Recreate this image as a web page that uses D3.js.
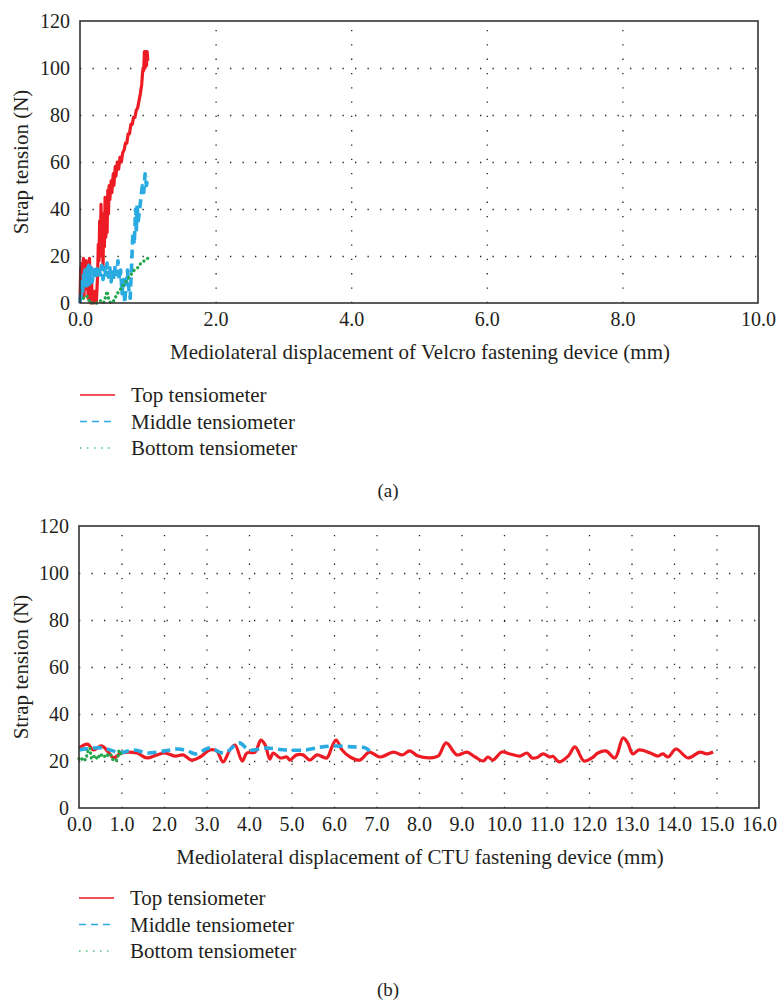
<!DOCTYPE html>
<html>
<head>
<meta charset="utf-8">
<script src="https://cdn.jsdelivr.net/npm/d3@7"></script>
<style>
  html, body { margin: 0; padding: 0; background: #fff; }
  svg text { font-family: "Liberation Serif", "Times New Roman", Times, "DejaVu Serif", serif !important; }
</style>
</head>
<body>
<svg id="fig" width="777" height="1006"></svg>
<script>
// ── Data ────────────────────────────────────────────────────────────────────
// (a) Velcro fastening device: [displacement mm, tension N]
const velcroTop = [
  [0.00, 0], [0.01, 15], [0.02, 5], [0.03, 17], [0.04, 8], [0.05, 19], [0.06, 3],
  [0.07, 14], [0.08, 10], [0.09, 18], [0.10, 6], [0.11, 16], [0.12, 2], [0.13, 12],
  [0.14, 19], [0.15, 8], [0.16, 0], [0.17, 10], [0.18, 3], [0.20, 0], [0.22, 5],
  [0.24, 0], [0.26, 12], [0.27, 25], [0.28, 18], [0.29, 35], [0.30, 22], [0.31, 42],
  [0.32, 20], [0.33, 30], [0.34, 15], [0.35, 38], [0.36, 24], [0.37, 45], [0.38, 28],
  [0.39, 40], [0.40, 30], [0.41, 48], [0.42, 38], [0.43, 50], [0.44, 44], [0.46, 52],
  [0.47, 47], [0.49, 55], [0.50, 50], [0.52, 58], [0.53, 54], [0.55, 60], [0.57, 57],
  [0.59, 62], [0.61, 60], [0.63, 64], [0.65, 65], [0.67, 68], [0.69, 68], [0.71, 72],
  [0.73, 72], [0.75, 76], [0.77, 76], [0.79, 79], [0.81, 79], [0.83, 82], [0.85, 83],
  [0.87, 86], [0.89, 89], [0.91, 93], [0.92, 97], [0.93, 100], [0.94, 99], [0.95, 107],
  [0.96, 100], [0.97, 107], [0.98, 101], [0.99, 107], [1.00, 103]
];
const velcroMiddle = [
  [0.00, 0], [0.01, 5], [0.02, 2], [0.03, 10], [0.04, 4], [0.05, 12], [0.06, 7],
  [0.07, 14], [0.08, 9], [0.09, 13], [0.10, 6], [0.11, 15], [0.12, 10], [0.13, 16],
  [0.14, 8], [0.15, 13], [0.16, 11], [0.17, 15], [0.18, 9], [0.20, 14], [0.22, 10],
  [0.24, 16], [0.26, 11], [0.28, 14], [0.30, 12], [0.32, 16], [0.34, 10], [0.36, 15],
  [0.38, 12], [0.40, 17], [0.42, 11], [0.44, 15], [0.46, 9], [0.48, 14], [0.50, 10],
  [0.52, 16], [0.54, 12], [0.56, 18], [0.58, 10], [0.60, 14], [0.62, 4], [0.64, 10],
  [0.66, 0], [0.68, 8], [0.70, 14], [0.72, 6], [0.74, 2], [0.76, 15], [0.78, 30],
  [0.80, 25], [0.82, 40], [0.83, 30], [0.84, 42], [0.86, 35], [0.88, 40], [0.90, 45],
  [0.92, 50], [0.94, 47], [0.96, 55], [0.98, 50], [1.00, 54]
];
const velcroBottom = [
  [0.05, 2], [0.10, 3], [0.15, 0], [0.25, 0], [0.30, 1], [0.35, 0], [0.38, 3], [0.40, 5],
  [0.42, 2], [0.45, 0], [0.50, 1], [0.55, 4], [0.60, 6], [0.65, 8], [0.70, 10], [0.75, 12],
  [0.80, 14], [0.85, 15], [0.90, 17], [0.95, 18], [1.00, 19]
];

// (b) CTU fastening device
const ctuTop = [
  [0.00, 25.5], [0.20, 27.2], [0.34, 24.7], [0.53, 26.4], [0.69, 23.8], [0.81, 21.3],
  [1.00, 23.4], [1.36, 23.4], [1.60, 21.3], [1.83, 22.6], [2.02, 23.4], [2.26, 22.1],
  [2.45, 22.6], [2.65, 20.4], [2.85, 21.7], [3.08, 24.7], [3.24, 24.3], [3.39, 19.6],
  [3.55, 24.7], [3.67, 26.8], [3.84, 20.0], [3.95, 23.4], [4.14, 23.8], [4.28, 28.9],
  [4.38, 26.8], [4.49, 20.8], [4.57, 23.4], [4.73, 21.3], [4.89, 21.7], [4.96, 20.4],
  [5.12, 22.6], [5.27, 22.6], [5.43, 20.4], [5.60, 22.6], [5.83, 21.3], [5.95, 26.0],
  [6.05, 28.9], [6.19, 24.7], [6.38, 21.7], [6.61, 20.4], [6.83, 23.8], [7.08, 21.7],
  [7.40, 23.8], [7.61, 22.6], [7.78, 24.3], [7.98, 22.1], [8.26, 21.3], [8.45, 22.1],
  [8.64, 27.7], [8.89, 22.6], [9.13, 23.8], [9.32, 21.7], [9.51, 20.0], [9.62, 21.7],
  [9.74, 20.4], [9.95, 23.8], [10.14, 23.0], [10.38, 22.1], [10.54, 23.4], [10.66, 21.3],
  [10.78, 21.5], [10.92, 23.0], [11.08, 21.7], [11.15, 22.0], [11.30, 19.6], [11.51, 22.1],
  [11.67, 26.0], [11.88, 20.0], [12.07, 21.3], [12.21, 23.4], [12.40, 24.3], [12.61, 21.3],
  [12.80, 29.8], [12.91, 27.7], [13.03, 23.0], [13.18, 24.7], [13.44, 23.4], [13.62, 22.1],
  [13.74, 23.0], [13.86, 21.7], [14.05, 25.1], [14.33, 21.3], [14.61, 23.8], [14.77, 23.0],
  [14.92, 23.8]
];
const ctuMiddle = [
  [0.00, 24.7], [0.33, 25.5], [0.57, 25.5], [0.80, 24.3], [0.95, 23.4], [1.30, 24.7],
  [1.60, 23.4], [2.02, 24.3], [2.33, 25.1], [2.55, 24.3], [2.76, 23.0], [3.06, 25.5],
  [3.42, 23.4], [3.77, 27.7], [4.00, 24.7], [4.39, 25.5], [4.87, 24.7], [5.33, 24.7],
  [5.72, 26.0], [6.04, 26.4], [6.43, 26.0], [6.75, 25.5], [6.86, 23.8]
];
const ctuBottom = [
  [0.00, 21.0], [0.05, 20.2], [0.10, 21.5], [0.15, 20.5], [0.20, 23.5], [0.25, 25.5],
  [0.30, 21.0], [0.35, 22.0], [0.40, 20.8], [0.45, 22.5], [0.50, 21.5], [0.55, 23.0],
  [0.60, 22.0], [0.65, 23.0], [0.70, 21.8], [0.75, 22.5], [0.80, 20.5], [0.85, 20.0],
  [0.90, 21.0], [0.95, 24.5], [1.00, 22.0]
];

const yTicks = [0, 20, 40, 60, 80, 100, 120];
const velcroXTicks = [0, 2, 4, 6, 8, 10];
const ctuXTicks = d3.range(0, 17, 1);
const legendNames = ['Top tensiometer', 'Middle tensiometer', 'Bottom tensiometer'];

// ── Styles ──────────────────────────────────────────────────────────────────
const RED = '#ed1c24', BLUE = '#29abe2', GREEN = '#22a84a', LEGEND_GREEN = '#4cc477';
const INK = '#231f20';
const seriesStyle = [
  { color: RED,   width: 3.2, dash: null,     cap: 'butt'  },
  { color: BLUE,  width: 3.6, dash: '9,5',    cap: 'butt'  },
  { color: GREEN, width: 3.3, dash: '0.1,4.5', cap: 'round' }
];
const legendStyle = [
  { color: RED,          width: 1.4, dash: null },
  { color: BLUE,         width: 1.6, dash: '7,5' },
  { color: LEGEND_GREEN, width: 1.6, dash: '1.5,5.5' }
];

const svg = d3.select('#fig');

// Draw one panel: frame, dotted grid, tick labels, axis titles, series, legend.
function drawPanel(cfg) {
  const g = svg.append('g');
  const x = d3.scaleLinear().domain(cfg.xDomain).range([cfg.left, cfg.right]);
  const y = d3.scaleLinear().domain([0, 120]).range([cfg.bottom, cfg.top]);

  // dotted grid
  g.append('g')
    .attr('transform', `translate(${cfg.left},0)`)
    .call(d3.axisLeft(y).tickValues(yTicks.slice(1, -1)).tickSize(-(cfg.right - cfg.left)).tickFormat(''))
    .call(s => s.select('.domain').remove())
    .selectAll('line').attr('stroke', '#222').attr('stroke-width', 1.3).attr('stroke-dasharray', '1.3,11.2');
  g.append('g')
    .attr('transform', `translate(0,${cfg.bottom})`)
    .call(d3.axisBottom(x).tickValues(cfg.xTicks.slice(1, -1)).tickSize(-(cfg.bottom - cfg.top)).tickFormat(''))
    .call(s => s.select('.domain').remove())
    .selectAll('line').attr('stroke', '#222').attr('stroke-width', 1.3).attr('stroke-dasharray', '1.3,13');

  // tick labels
  const yAx = g.append('g').attr('transform', `translate(${cfg.left},0)`)
    .call(d3.axisLeft(y).tickValues(yTicks).tickSize(0).tickPadding(10).tickFormat(d3.format('d')));
  yAx.select('.domain').remove();
  yAx.selectAll('text').attr('font-size', 20).attr('fill', INK);
  const xAx = g.append('g').attr('transform', `translate(0,${cfg.bottom})`)
    .call(d3.axisBottom(x).tickValues(cfg.xTicks).tickSize(0).tickPadding(9).tickFormat(d3.format('.1f')));
  xAx.select('.domain').remove();
  xAx.selectAll('text').attr('font-size', 20).attr('fill', INK);

  // series
  const line = d3.line().x(d => x(d[0])).y(d => y(d[1])).curve(cfg.curve);
  cfg.series.forEach((data, i) => {
    const st = seriesStyle[i];
    g.append('path').datum(data)
      .attr('d', line)
      .attr('fill', 'none')
      .attr('stroke', st.color)
      .attr('stroke-width', st.width)
      .attr('stroke-linecap', st.cap)
      .attr('stroke-linejoin', 'round')
      .attr('stroke-dasharray', st.dash);
  });

  // frame
  g.append('rect')
    .attr('x', cfg.left).attr('y', cfg.top)
    .attr('width', cfg.right - cfg.left).attr('height', cfg.bottom - cfg.top)
    .attr('fill', 'none').attr('stroke', '#333').attr('stroke-width', 1.6);

  // axis titles
  g.append('text')
    .attr('x', (cfg.left + cfg.right) / 2 + 1).attr('y', cfg.bottom + 56)
    .attr('text-anchor', 'middle').attr('font-size', 21).attr('fill', INK)
    .text(cfg.xTitle);
  g.append('text')
    .attr('transform', `translate(28,${(cfg.top + cfg.bottom) / 2}) rotate(-90)`)
    .attr('text-anchor', 'middle').attr('font-size', 21).attr('fill', INK)
    .text('Strap tension (N)');

  // legend
  legendNames.forEach((name, i) => {
    const ly = cfg.legendY + i * 26.5;
    const st = legendStyle[i];
    g.append('line')
      .attr('x1', cfg.left).attr('x2', cfg.left + 35)
      .attr('y1', ly).attr('y2', ly)
      .attr('stroke', st.color).attr('stroke-width', st.width)
      .attr('stroke-dasharray', st.dash);
    g.append('text')
      .attr('x', cfg.left + 51).attr('y', ly).attr('dy', '0.35em')
      .attr('font-size', 21).attr('fill', INK)
      .text(name);
  });

  // panel label
  g.append('text')
    .attr('x', 388).attr('y', cfg.captionY).attr('dy', '0.35em')
    .attr('text-anchor', 'middle').attr('font-size', 19).attr('fill', INK)
    .text(cfg.caption);
}

drawPanel({
  left: 80, right: 758, top: 21, bottom: 303,
  xDomain: [0, 10], xTicks: velcroXTicks,
  series: [velcroTop, velcroMiddle, velcroBottom],
  curve: d3.curveLinear,
  xTitle: 'Mediolateral displacement of Velcro fastening device (mm)',
  legendY: 395, captionY: 490, caption: '(a)'
});

drawPanel({
  left: 79, right: 759, top: 526, bottom: 808,
  xDomain: [0, 16], xTicks: ctuXTicks,
  series: [ctuTop, ctuMiddle, ctuBottom],
  curve: d3.curveCatmullRom,
  xTitle: 'Mediolateral displacement of CTU fastening device (mm)',
  legendY: 898, captionY: 989, caption: '(b)'
});
</script>
</body>
</html>
